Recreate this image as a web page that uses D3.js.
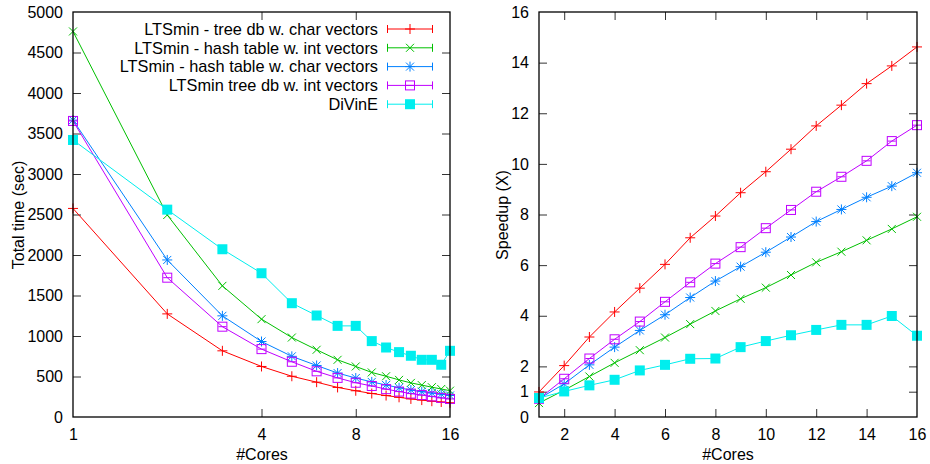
<!DOCTYPE html>
<html>
<head>
<meta charset="utf-8">
<script src="https://cdn.jsdelivr.net/npm/d3@7"></script>
<style>
  body { margin: 0; background: #fff; }
  text { font-family: "Liberation Sans", Arial, sans-serif; fill: #000; }
</style>
</head>
<body>
<script>
// data
var cores = [1, 2, 3, 4, 5, 6, 7, 8, 9, 10, 11, 12, 13, 14, 15, 16];
var names = ["LTSmin - tree db w. char vectors", "LTSmin - hash table w. int vectors",
             "LTSmin - hash table w. char vectors", "LTSmin tree db w. int vectors", "DiVinE"];
var colors = ["#ff0000", "#00c000", "#0080ff", "#c000ff", "#00eeee"];
var symbols = ["plus", "cross", "star", "square", "filled"];

// total time (sec)
var timeTreeChar = [2575, 1273, 817, 624, 503, 430, 365, 324, 290, 265, 243, 223, 209, 195, 185, 176];
var timeHashInt  = [4760, 2494, 1619, 1208, 981, 830, 706, 624, 550, 503, 458, 421, 394, 368, 346, 325];
var timeHashChar = [3665, 1939, 1249, 932, 749, 636, 543, 481, 433, 395, 361, 333, 313, 296, 282, 266];
var timeTreeInt  = [3655, 1720, 1115, 838, 682, 564, 483, 423, 383, 344, 314, 289, 271, 254, 236, 223];
var timeDivine   = [3420, 2560, 2071, 1775, 1405, 1253, 1125, 1125, 937, 858, 801, 756, 706, 706, 645, 817];

// speedup (X)
var spTreeChar = [0.99, 2.03, 3.16, 4.15, 5.09, 6.03, 7.08, 7.94, 8.86, 9.69, 10.58, 11.50, 12.32, 13.17, 13.87, 14.62];
var spHashInt  = [0.55, 1.06, 1.60, 2.14, 2.64, 3.14, 3.67, 4.19, 4.67, 5.11, 5.61, 6.11, 6.53, 6.98, 7.43, 7.91];
var spHashChar = [0.72, 1.31, 2.06, 2.76, 3.42, 4.04, 4.72, 5.37, 5.94, 6.51, 7.11, 7.72, 8.20, 8.68, 9.12, 9.65];
var spTreeInt  = [0.72, 1.51, 2.31, 3.07, 3.77, 4.55, 5.32, 6.06, 6.71, 7.46, 8.18, 8.90, 9.49, 10.12, 10.90, 11.53];
var spDivine   = [0.75, 1.01, 1.25, 1.47, 1.84, 2.06, 2.30, 2.31, 2.76, 3.00, 3.23, 3.44, 3.64, 3.64, 3.99, 3.21];

var timeSeries = [timeTreeChar, timeHashInt, timeHashChar, timeTreeInt, timeDivine];
var speedSeries = [spTreeChar, spHashInt, spHashChar, spTreeInt, spDivine];

var leftYTicks = [0, 500, 1000, 1500, 2000, 2500, 3000, 3500, 4000, 4500, 5000];
var leftXTicks = [1, 4, 8, 16];
var rightYTicks = [0, 1, 2, 4, 6, 8, 10, 12, 14, 16];
var rightXTicks = [2, 4, 6, 8, 10, 12, 14, 16];

var W = 930, H = 464, FS = 16;
var svg = d3.select("body").append("svg").attr("width", W).attr("height", H);

function marker(g, type, x, y, color) {
  var s = 5;
  if (type == "plus") {
    g.append("path").attr("d", "M" + (x - s) + "," + y + "H" + (x + s) + "M" + x + "," + (y - s) + "V" + (y + s))
      .attr("stroke", color).attr("fill", "none");
  } else if (type == "cross") {
    g.append("path").attr("d", "M" + (x - 4) + "," + (y - 4) + "L" + (x + 4) + "," + (y + 4) + "M" + (x - 4) + "," + (y + 4) + "L" + (x + 4) + "," + (y - 4))
      .attr("stroke", color).attr("fill", "none");
  } else if (type == "star") {
    g.append("path").attr("d", "M" + (x - s) + "," + y + "H" + (x + s) + "M" + x + "," + (y - s) + "V" + (y + s) +
      "M" + (x - 4) + "," + (y - 4) + "L" + (x + 4) + "," + (y + 4) + "M" + (x - 4) + "," + (y + 4) + "L" + (x + 4) + "," + (y - 4))
      .attr("stroke", color).attr("fill", "none");
  } else if (type == "square") {
    g.append("rect").attr("x", x - 4.5).attr("y", y - 4.5).attr("width", 9).attr("height", 9)
      .attr("stroke", color).attr("fill", "none");
    g.append("path").attr("d", "M" + (x - 4) + "," + y + "H" + (x + 4)).attr("stroke", color);
  } else {
    g.append("rect").attr("x", x - 5).attr("y", y - 5).attr("width", 10).attr("height", 10)
      .attr("fill", color);
  }
}

function frame(g, x, y) {
  var xr = x.range(), yr = y.range();
  g.append("rect").attr("x", xr[0]).attr("y", yr[1]).attr("width", xr[1] - xr[0]).attr("height", yr[0] - yr[1])
    .attr("fill", "none").attr("stroke", "#000").attr("stroke-width", 1.3);
}

function axes(g, x, y, xt, yt) {
  var xr = x.range(), yr = y.range();
  var fmt = d3.format("d");
  var ax = g.append("g").attr("transform", "translate(0," + yr[0] + ")")
    .call(d3.axisBottom(x).tickValues(xt).tickSizeInner(-8).tickSizeOuter(0).tickPadding(12).tickFormat(fmt));
  var ax2 = g.append("g").attr("transform", "translate(0," + yr[1] + ")")
    .call(d3.axisTop(x).tickValues(xt).tickSizeInner(-8).tickSizeOuter(0).tickFormat(""));
  var ay = g.append("g").attr("transform", "translate(" + xr[0] + ",0)")
    .call(d3.axisLeft(y).tickValues(yt).tickSizeInner(-8).tickSizeOuter(0).tickPadding(10).tickFormat(fmt));
  var ay2 = g.append("g").attr("transform", "translate(" + xr[1] + ",0)")
    .call(d3.axisRight(y).tickValues(yt).tickSizeInner(-8).tickSizeOuter(0).tickFormat(""));
  [ax, ax2, ay, ay2].forEach(function(a) {
    a.select(".domain").remove();
    a.selectAll("line").attr("stroke", "#333");
    a.selectAll("text").attr("font-size", FS).attr("font-family", "Liberation Sans, Arial, sans-serif").attr("fill", "#000");
  });
  // skip the edge ticks that sit on the frame
  ax.selectAll(".tick line").filter(function(d) { return x(d) <= xr[0] + 1 || x(d) >= xr[1] - 1; }).remove();
  ax2.selectAll(".tick line").filter(function(d) { return x(d) <= xr[0] + 1 || x(d) >= xr[1] - 1; }).remove();
  ay.selectAll(".tick line").filter(function(d) { return y(d) <= yr[1] + 1 || y(d) >= yr[0] - 1; }).remove();
  ay2.selectAll(".tick line").filter(function(d) { return y(d) <= yr[1] + 1 || y(d) >= yr[0] - 1; }).remove();
}

function series(g, x, y, data) {
  data.forEach(function(vals, i) {
    var pts = cores.map(function(c, j) { return [x(c), y(vals[j])]; });
    g.append("path").attr("d", d3.line()(pts)).attr("fill", "none").attr("stroke", colors[i]).attr("stroke-width", 1);
    pts.forEach(function(p) { marker(g, symbols[i], p[0], p[1], colors[i]); });
  });
}

// ---- left: total time ----
var xL = d3.scaleLog().base(2).domain([1, 16]).range([73, 450]);
var yL = d3.scaleLinear().domain([0, 5000]).range([417, 12]);
var gL = svg.append("g");
axes(gL, xL, yL, leftXTicks, leftYTicks);
series(gL, xL, yL, timeSeries);
frame(gL, xL, yL);

gL.append("text").attr("transform", "translate(24,215) rotate(-90)").attr("text-anchor", "middle")
  .attr("font-size", FS).text("Total time (sec)");
gL.append("text").attr("x", 262).attr("y", 460).attr("text-anchor", "middle")
  .attr("font-size", FS).text("#Cores");

// legend - size the font so the first entry spans about 234px like the original
var leg = gL.append("g");
var probe = leg.append("text").attr("font-size", 100).text(names[0]);
var legFS = 100 * 234 / probe.node().getComputedTextLength();
probe.remove();
names.forEach(function(n, i) {
  var yy = 29 + i * 18.8;
  leg.append("text").attr("x", 378).attr("y", yy).attr("dy", "0.36em").attr("text-anchor", "end")
    .attr("font-size", legFS).text(n);
  leg.append("path").attr("d", "M387.5," + yy + "H432.5M387.5," + (yy - 4) + "V" + (yy + 4) + "M432.5," + (yy - 4) + "V" + (yy + 4))
    .attr("stroke", colors[i]).attr("fill", "none");
  marker(leg, symbols[i], 410, yy, colors[i]);
});

// ---- right: speedup ----
var xR = d3.scaleLinear().domain([1, 16]).range([539, 917]);
var yR = d3.scaleLinear().domain([0, 16]).range([417, 12]);
var gR = svg.append("g");
axes(gR, xR, yR, rightXTicks, rightYTicks);
series(gR, xR, yR, speedSeries);
frame(gR, xR, yR);

gR.append("text").attr("transform", "translate(508,215) rotate(-90)").attr("text-anchor", "middle")
  .attr("font-size", FS).text("Speedup (X)");
gR.append("text").attr("x", 728).attr("y", 460).attr("text-anchor", "middle")
  .attr("font-size", FS).text("#Cores");
</script>
</body>
</html>
